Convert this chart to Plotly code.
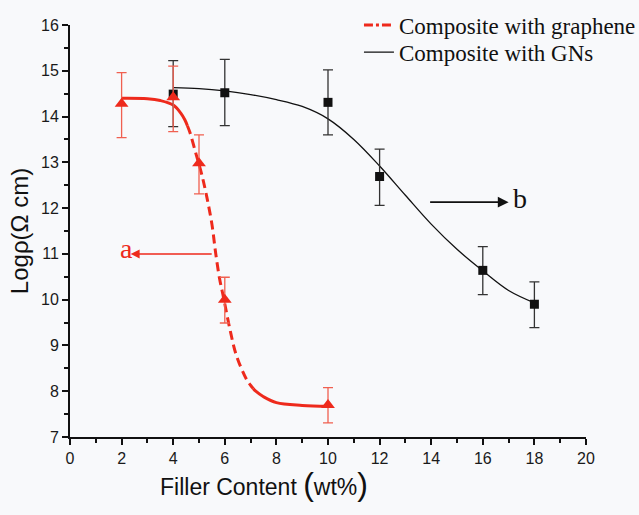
import plotly.graph_objects as go

# ---- data ----
graphene_x = [2, 4, 5, 6, 10]
graphene_y = [14.28, 14.42, 12.98, 10.0, 7.7]
graphene_err_plus = [0.68, 0.68, 0.62, 0.49, 0.38]
graphene_err_minus = [0.74, 0.75, 0.67, 0.51, 0.39]

gns_x = [4, 6, 10, 12, 16, 18]
gns_y = [14.49, 14.52, 14.31, 12.69, 10.64, 9.9]
gns_err_plus = [0.73, 0.73, 0.71, 0.6, 0.52, 0.49]
gns_err_minus = [0.71, 0.72, 0.71, 0.63, 0.53, 0.51]

# fitted curves
fit_g_x = [2, 3, 3.5, 4, 4.3, 4.45, 4.55, 4.65, 4.9, 5.1, 5.3, 5.5, 5.65, 5.8, 5.95, 6.2, 6.45, 6.85, 7.0, 7.1, 7.2, 7.5, 8, 9, 10]
fit_g_y = [14.4, 14.39, 14.35, 14.25, 14.07, 13.93, 13.8, 13.65, 13.15, 12.75, 12.25, 11.65, 11.0, 10.45, 10.05, 9.35, 8.78, 8.25, 8.13, 8.06, 8.0, 7.88, 7.75, 7.69, 7.67]
fit_n_x = [4, 5, 6, 7, 8, 9, 10, 11, 12, 13, 14, 15, 16, 17, 18]
fit_n_y = [14.63, 14.61, 14.56, 14.48, 14.37, 14.22, 13.95, 13.5, 12.92, 12.28, 11.65, 11.1, 10.63, 10.2, 9.93]

x_ticks = [0, 2, 4, 6, 8, 10, 12, 14, 16, 18, 20]
y_ticks = [7, 8, 9, 10, 11, 12, 13, 14, 15, 16]

RED = "#ee2a1c"
BLK = "#111111"
BG = "#f8f9fb"

fig = go.Figure()

# red fit curve: solid flat parts, dashed steep part
i1, i2 = 6, 19
fig.add_trace(go.Scatter(x=fit_g_x[:i1 + 1], y=fit_g_y[:i1 + 1], mode="lines",
                         line=dict(color=RED, width=3, shape="spline"), showlegend=False))
fig.add_trace(go.Scatter(x=fit_g_x[i1:i2 + 1], y=fit_g_y[i1:i2 + 1], mode="lines",
                         line=dict(color=RED, width=3, shape="spline", dash="9px,5px"), showlegend=False))
fig.add_trace(go.Scatter(x=fit_g_x[i2:], y=fit_g_y[i2:], mode="lines",
                         line=dict(color=RED, width=3, shape="spline"), showlegend=False))

fig.add_trace(go.Scatter(x=fit_n_x, y=fit_n_y, mode="lines",
                         line=dict(color=BLK, width=1.3, shape="spline"), showlegend=False))

# data points
fig.add_trace(go.Scatter(x=gns_x, y=gns_y, mode="markers",
                         marker=dict(symbol="square", size=9, color=BLK),
                         error_y=dict(type="data", array=gns_err_plus, arrayminus=gns_err_minus,
                                      color="#333333", thickness=1.3, width=5),
                         showlegend=False))
fig.add_trace(go.Scatter(x=graphene_x, y=graphene_y, mode="markers",
                         marker=dict(symbol="triangle-up", size=12, color=RED),
                         error_y=dict(type="data", array=graphene_err_plus, arrayminus=graphene_err_minus,
                                      color="#f06050", thickness=1.3, width=5),
                         showlegend=False))

# legend entries (one legend per row so rows can be placed like the reference)
fig.add_trace(go.Scatter(x=[None], y=[None], mode="lines", name="Composite with graphene",
                         line=dict(color=RED, width=3, dash="dashdot"), legend="legend"))
fig.add_trace(go.Scatter(x=[None], y=[None], mode="lines", name="Composite with GNs",
                         line=dict(color=BLK, width=1.3), legend="legend2"))

# arrows a and b
fig.add_annotation(x=2.35, y=11.0, ax=5.55, ay=11.0, xref="x", yref="y", axref="x", ayref="y",
                   text="", showarrow=True, arrowhead=2, arrowsize=1.2, arrowwidth=1.5, arrowcolor=RED)
fig.add_annotation(x=2.2, y=11.12, xref="x", yref="y", text="a", showarrow=False,
                   font=dict(family="Liberation Serif", size=28, color=RED))
fig.add_annotation(x=17.0, y=12.13, ax=13.9, ay=12.13, xref="x", yref="y", axref="x", ayref="y",
                   text="", showarrow=True, arrowhead=2, arrowsize=1.2, arrowwidth=1.8, arrowcolor=BLK)
fig.add_annotation(x=17.45, y=12.2, xref="x", yref="y", text="b", showarrow=False,
                   font=dict(family="Liberation Serif", size=28, color=BLK))

# x-axis title (sits left of centre in the reference)
fig.add_annotation(x=0.375, y=-0.115, xref="paper", yref="paper", yanchor="middle", showarrow=False,
                   text='Filler Content <span style="font-size:32px">(</span>wt%<span style="font-size:32px">)</span>',
                   font=dict(family="Liberation Sans", size=23, color="#111"))

axis_common = dict(showline=True, linecolor=BLK, linewidth=2, ticks="outside", ticklen=6,
                   tickwidth=2, tickcolor=BLK, showgrid=False, zeroline=False, mirror=False,
                   tickfont=dict(family="Liberation Sans", size=16, color="#1a1a1a"))

legend_common = dict(xanchor="left", yanchor="middle", bgcolor="rgba(0,0,0,0)",
                     font=dict(family="Liberation Serif", size=23, color="#111"), itemwidth=30)

fig.update_layout(
    width=639, height=515,
    margin=dict(l=70, r=53, t=25, b=78, autoexpand=False),
    paper_bgcolor=BG, plot_bgcolor=BG,
    xaxis=dict(range=[0, 20], tickvals=x_ticks,
               minor=dict(ticks="outside", dtick=1, ticklen=4, tickwidth=2, tickcolor=BLK),
               **axis_common),
    yaxis=dict(range=[7, 16], tickvals=y_ticks,
               minor=dict(ticks="outside", dtick=0.5, ticklen=4, tickwidth=2, tickcolor=BLK),
               title=dict(text="Logρ(Ω cm)", font=dict(family="Liberation Sans", size=24, color="#111"),
                          standoff=6),
               **axis_common),
    legend=dict(x=0.56, y=1.0, **legend_common),
    legend2=dict(x=0.56, y=0.934, **legend_common),
    showlegend=True,
)

fig.write_html("out.html")
